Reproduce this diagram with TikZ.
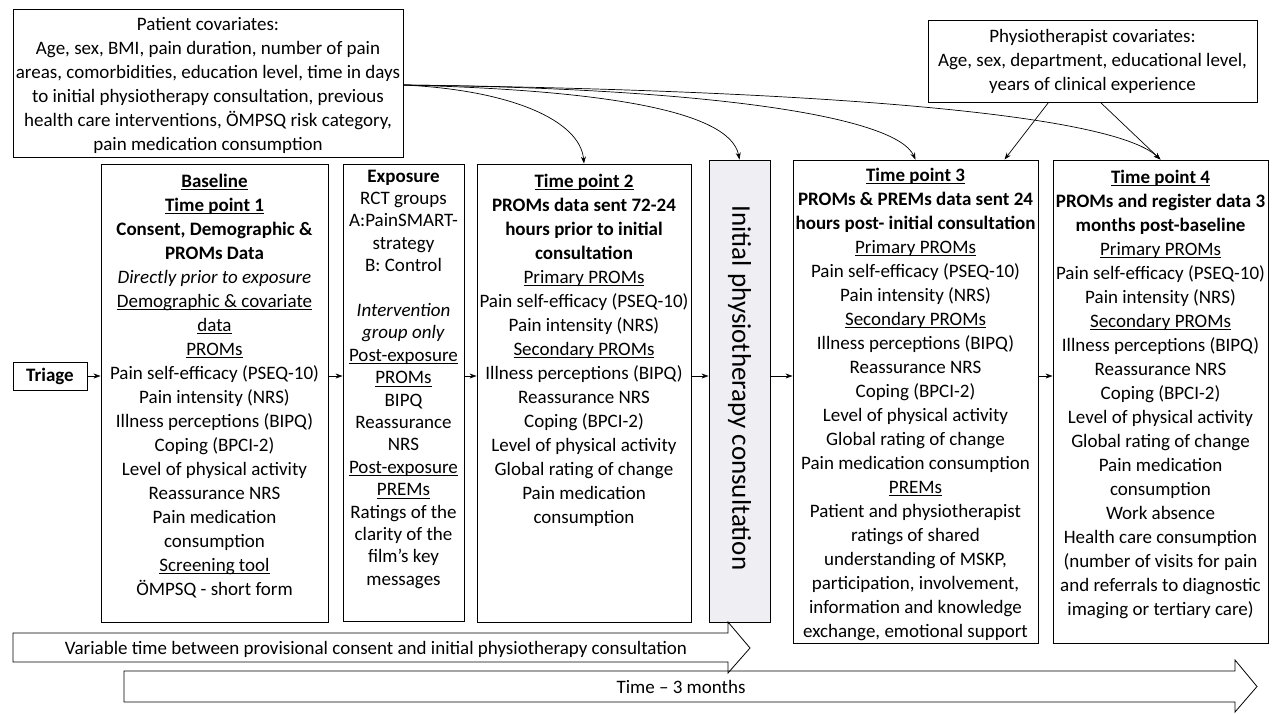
\documentclass[tikz,border=0pt]{standalone}
\usepackage{fontspec}
\setmainfont{Carlito}
\usetikzlibrary{arrows.meta,calc}
\newcommand\uln[1]{\setbox0\hbox{#1}\rlap{\rule[-2.8pt]{\wd0}{0.9pt}}\box0}
\definecolor{consfill}{RGB}{238,238,243}
\tikzset{
  box/.style={draw=black, line width=0.9pt, inner sep=0pt},
  txt/.style={align=center, inner sep=0pt, font=\fontsize{19}{24}\selectfont},
  txtx/.style={align=center, inner sep=0pt, font=\fontsize{19}{22.4}\selectfont},
  arr/.style={-{Stealth[length=7pt,width=5pt]}, line width=0.7pt},
  outl/.style={draw=black, line width=0.8pt}
}
\begin{document}
\begin{tikzpicture}[x=1pt,y=-1pt]
\useasboundingbox (0,0) rectangle (1274,713);

% covariate boxes
\node[box, minimum width=390pt, minimum height=148pt] (pc) at (208,83) {};
\node[txt] (pct) at (208,85) {Patient covariates:\\Age, sex, BMI, pain duration, number of pain\\areas, comorbidities, education level, time in days\\to initial physiotherapy consultation, previous\\health care interventions, ÖMPSQ risk category,\\pain medication consumption};

\node[box, minimum width=329pt, minimum height=82pt] (ph) at (1092.5,61) {};
\node[txt] (pht) at (1092.5,61) {Physiotherapist covariates:\\Age, sex, department, educational level,\\years of clinical experience};

% triage
\node[box, minimum width=74pt, minimum height=28pt, font=\fontsize{19}{24}\selectfont\bfseries] (tri) at (50,376) {Triage};

% main boxes
\node[box, minimum width=227pt, minimum height=458pt] (base) at (214.5,393) {};
\node[txt, anchor=north] (baset) at (214.5,173.5) {\textbf{\uln{Baseline}}\\
\textbf{\uln{Time point 1}}\\
\textbf{Consent, Demographic \&}\\
\textbf{PROMs Data}\\
\textit{Directly prior to exposure}\\
\uln{Demographic \& covariate}\\
\uln{data}\\
\uln{PROMs}\\
Pain self-efficacy (PSEQ-10)\\
Pain intensity (NRS)\\
Illness perceptions (BIPQ)\\
Coping (BPCI-2)\\
Level of physical activity\\
Reassurance NRS\\
Pain medication\\
consumption\\
\uln{Screening tool}\\
ÖMPSQ - short form};

\node[box, minimum width=121pt, minimum height=457pt] (exp) at (403.5,392.5) {};
\node[txtx, anchor=north] (expt) at (403.5,169.5) {\textbf{Exposure}\\RCT groups\\A:PainSMART-\\strategy\\B: Control\\[22.4pt]
\textit{Intervention}\\\textit{group only}\\\uln{Post-exposure}\\\uln{PROMs}\\BIPQ\\Reassurance\\NRS\\\uln{Post-exposure}\\\uln{PREMs}\\Ratings of the\\clarity of the\\film’s key\\messages};

\node[box, minimum width=214pt, minimum height=458pt] (tp2) at (584,393) {};
\node[txt, anchor=north] (tp2t) at (584,173.5) {\textbf{\uln{Time point 2}}\\
\textbf{PROMs data sent 72-24}\\
\textbf{hours prior to initial}\\
\textbf{consultation}\\
\uln{Primary PROMs}\\
Pain self-efficacy (PSEQ-10)\\
Pain intensity (NRS)\\
\uln{Secondary PROMs}\\
Illness perceptions (BIPQ)\\
Reassurance NRS\\
Coping (BPCI-2)\\
Level of physical activity\\
Global rating of change\\
Pain medication\\
consumption};

\node[box, fill=consfill, minimum width=61pt, minimum height=462pt] (cons) at (739.5,391) {};
\node[rotate=-90, inner sep=0pt, font=\fontsize{27}{30}\selectfont] (const) at (739.5,388) {Initial physiotherapy consultation};

\node[box, minimum width=245pt, minimum height=483pt] (tp3) at (915.5,401.5) {};
\node[txt, anchor=north] (tp3t) at (915.5,167.5) {\textbf{\uln{Time point 3}}\\
\textbf{PROMs \& PREMs data sent 24}\\
\textbf{hours post- initial consultation}\\
\uln{Primary PROMs}\\
Pain self-efficacy (PSEQ-10)\\
Pain intensity (NRS)\\
\uln{Secondary PROMs}\\
Illness perceptions (BIPQ)\\
Reassurance NRS\\
Coping (BPCI-2)\\
Level of physical activity\\
Global rating of change\\
Pain medication consumption\\
\uln{PREMs}\\
Patient and physiotherapist\\
ratings of shared\\
understanding of MSKP,\\
participation, involvement,\\
information and knowledge\\
exchange, emotional support};

\node[box, minimum width=215pt, minimum height=483pt] (tp4) at (1160.5,401.5) {};
\node[txt, anchor=north] (tp4t) at (1160.5,169.5) {\textbf{\uln{Time point 4}}\\
\textbf{PROMs and register data 3}\\
\textbf{months post-baseline}\\
\uln{Primary PROMs}\\
Pain self-efficacy (PSEQ-10)\\
Pain intensity (NRS)\\
\uln{Secondary PROMs}\\
Illness perceptions (BIPQ)\\
Reassurance NRS\\
Coping (BPCI-2)\\
Level of physical activity\\
Global rating of change\\
Pain medication\\
consumption\\
Work absence\\
Health care consumption\\
(number of visits for pain\\
and referrals to diagnostic\\
imaging or tertiary care)};

% horizontal flow arrows
\draw[arr] (tri.east) -- (tri.east -| base.west);
\draw[arr] (tri.east -| base.east) -- (tri.east -| exp.west);
\draw[arr] (tri.east -| exp.east) -- (tri.east -| tp2.west);
\draw[arr] (tri.east -| tp2.east) -- (tri.east -| cons.west);
\draw[arr] (tri.east -| cons.east) -- (tri.east -| tp3.west);
\draw[arr] (tri.east -| tp3.east) -- (tri.east -| tp4.west);

% curved covariate arrows
\coordinate (pcs) at ($(pc.east)+(0,2)$);
\draw[arr] (pcs) .. controls (510,90) and (580,120) .. (tp2.north);
\draw[arr] (pcs) .. controls (600,90) and (730,110) .. (cons.north);
\draw[arr] (pcs) .. controls (700,88) and (895,115) .. (tp3.north);
\draw[arr] (pcs) .. controls (800,90) and (1110,112) .. (tp4.north);

% physio arrows
\coordinate (phl) at ($(ph.south)+(-44,0)$);
\coordinate (phr) at ($(ph.south)+(8,0)$);
\coordinate (tp3r) at ($(tp3.north)+(89,0)$);
\draw[arr] (phl) -- (tp3r);
\draw[arr] (phr) -- (tp4.north);

% time arrows
\draw[outl] (13,633) -- (728,633) -- (728,622) -- (750,648) -- (728,673) -- (728,662) -- (13,662) -- cycle;
\node[txt] (vt) at (376,649) {Variable time between provisional consent and initial physiotherapy consultation};
\draw[outl] (124,671) -- (1235,671) -- (1235,660) -- (1257,686.5) -- (1235,712) -- (1235,702) -- (124,702) -- cycle;
\node[txt] (tm) at (681,687) {Time – 3 months};
\end{tikzpicture}
\end{document}
